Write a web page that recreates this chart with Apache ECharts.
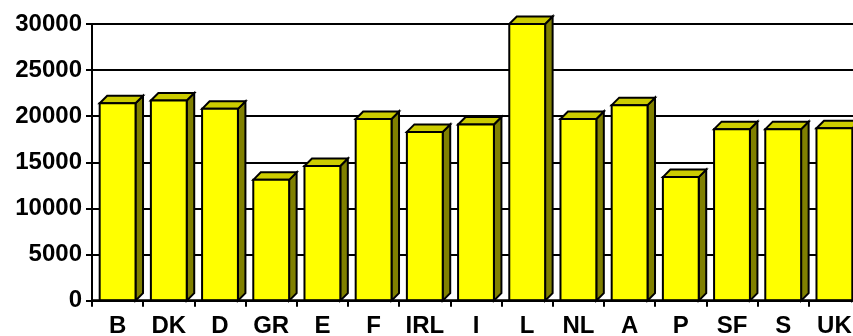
<!DOCTYPE html>
<html>
<head>
<meta charset="utf-8">
<script src="https://cdn.jsdelivr.net/npm/echarts@6/dist/echarts.min.js"></script>
<style>
  html, body { margin: 0; padding: 0; background: #fff; }
  #chart { width: 853px; height: 336px; }
</style>
</head>
<body>
<div id="chart"></div>
<script>
// Country codes along the category axis
const countries = ['B', 'DK', 'D', 'GR', 'E', 'F', 'IRL', 'I', 'L', 'NL', 'A', 'P', 'SF', 'S', 'UK'];
// Value per country
const values = [21400, 21700, 20800, 13100, 14600, 19700, 18300, 19100, 30000, 19700, 21200, 13400, 18600, 18600, 18700];
// Value axis settings
const yMin = 0;
const yMax = 30000;
const yStep = 5000;

const FONT = '"Liberation Sans", Arial, sans-serif';
const DEPTH = 7.5;

// Draws one column as a front face, a top face and a right side face
function renderColumn(params, api) {
  const idx = api.value(0);
  const val = api.value(1);
  const top = api.coord([idx, val]);
  const base = api.coord([idx, 0]);
  const slot = api.size([1, 0])[0];
  const w = slot * 0.7;
  const x0 = top[0] - w / 2;
  const x1 = top[0] + w / 2;
  const yt = top[1];
  const yb = base[1];
  const stroke = { stroke: '#000', lineWidth: 2, lineJoin: 'miter' };
  return {
    type: 'group',
    children: [
      {
        type: 'polygon',
        shape: { points: [[x1, yt], [x1 + DEPTH, yt - DEPTH], [x1 + DEPTH, yb - DEPTH], [x1, yb]] },
        style: Object.assign({ fill: '#808000' }, stroke)
      },
      {
        type: 'polygon',
        shape: { points: [[x0, yt], [x0 + DEPTH, yt - DEPTH], [x1 + DEPTH, yt - DEPTH], [x1, yt]] },
        style: Object.assign({ fill: '#CCCC00' }, stroke)
      },
      {
        type: 'rect',
        shape: { x: x0, y: yt, width: w, height: yb - yt },
        style: Object.assign({ fill: '#FFFF00' }, stroke)
      }
    ]
  };
}

const chart = echarts.init(document.getElementById('chart'), null, { renderer: 'canvas' });
chart.setOption({
  animation: false,
  backgroundColor: '#fff',
  grid: { left: 92, top: 24, width: 768, height: 276.7, containLabel: false, outerBoundsMode: 'none' },
  xAxis: {
    type: 'category',
    data: countries,
    boundaryGap: true,
    axisLine: { show: true, lineStyle: { color: '#000', width: 2.5 } },
    axisTick: { show: true, length: 6, alignWithLabel: false, lineStyle: { color: '#000', width: 2 } },
    axisLabel: { color: '#000', fontFamily: FONT, fontWeight: 'bold', fontSize: 24, margin: 14, interval: 0 },
    splitLine: { show: false },
    z: 5
  },
  yAxis: {
    type: 'value',
    min: yMin,
    max: yMax,
    interval: yStep,
    axisLine: { show: true, lineStyle: { color: '#000', width: 2 } },
    axisTick: { show: true, length: 6, lineStyle: { color: '#000', width: 2 } },
    axisLabel: {
      color: '#000', fontFamily: FONT, fontWeight: 'bold', fontSize: 24, margin: 10,
      formatter: (v) => String(v)
    },
    splitLine: { show: true, lineStyle: { color: '#000', width: 2 } }
  },
  series: [{
    type: 'custom',
    renderItem: renderColumn,
    data: values.map((v, i) => [i, v]),
    encode: { x: 0, y: 1 },
    clip: false,
    z: 3
  }]
});
</script>
</body>
</html>
